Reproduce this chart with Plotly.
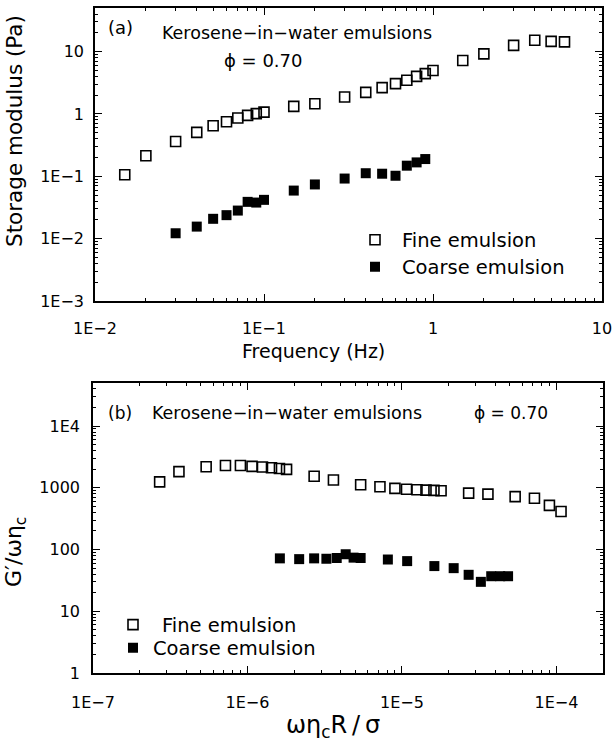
import plotly.graph_objects as go
import math

W, H = 616, 743

# ---------------- data ----------------
freq_fine = [0.015, 0.02, 0.03, 0.04, 0.05, 0.06, 0.07, 0.08, 0.09, 0.1,
             0.15, 0.2, 0.3, 0.4, 0.5, 0.6, 0.7, 0.8, 0.9, 1.0,
             1.5, 2, 3, 4, 5, 6]
gp_fine = [0.106, 0.214, 0.362, 0.506, 0.647, 0.75, 0.86, 0.95, 1.01, 1.07,
           1.32, 1.46, 1.87, 2.22, 2.64, 3.06, 3.46, 4.01, 4.43, 4.96,
           7.2, 9.2, 12.6, 15.2, 14.6, 14.3]
freq_coarse = [0.03, 0.04, 0.05, 0.06, 0.07, 0.08, 0.09, 0.1, 0.15, 0.2,
               0.3, 0.4, 0.5, 0.6, 0.7, 0.8, 0.9]
gp_coarse = [0.0122, 0.0156, 0.0208, 0.0238, 0.0282, 0.0389, 0.0379, 0.0419,
             0.059, 0.074, 0.092, 0.112, 0.110, 0.102, 0.148, 0.167, 0.189]

x_fine = [2.7e-7, 3.6e-7, 5.4e-7, 7.2e-7, 9.0e-7, 1.07e-6, 1.25e-6, 1.43e-6,
          1.61e-6, 1.79e-6, 2.7e-6, 3.6e-6, 5.4e-6, 7.2e-6, 9.0e-6, 1.07e-5,
          1.25e-5, 1.43e-5, 1.61e-5, 1.79e-5, 2.7e-5, 3.6e-5, 5.4e-5, 7.2e-5,
          9.0e-5, 1.07e-4]
y_fine = [1250, 1830, 2200, 2300, 2300, 2230, 2180, 2120, 2060, 1990,
          1540, 1340, 1120, 1040, 980, 950, 930, 920, 910, 900,
          820, 790, 720, 680, 520, 415]
x_coarse = [1.62e-6, 2.16e-6, 2.7e-6, 3.24e-6, 3.78e-6, 4.32e-6, 4.86e-6,
            5.4e-6, 8.1e-6, 1.08e-5, 1.62e-5, 2.16e-5, 2.7e-5, 3.24e-5,
            3.78e-5, 4.32e-5, 4.86e-5]
y_coarse = [72, 70, 72, 71, 73, 84, 74, 73, 69, 65, 54, 50, 39, 30, 37, 37, 37]

xa_vals = [1e-2, 1e-1, 1, 10]
xa_text = ["1E\u22122", "1E\u22121", "1", "10"]
ya_vals = [1e-3, 1e-2, 1e-1, 1, 10]
ya_text = ["1E\u22123", "1E\u22122", "1E\u22121", "1", "10"]
xb_vals = [1e-7, 1e-6, 1e-5, 1e-4]
xb_text = ["1E\u22127", "1E\u22126", "1E\u22125", "1E\u22124"]
yb_vals = [1, 10, 100, 1000, 1e4]
yb_text = ["1", "10", "100", "1000", "1E4"]

FONT = "DejaVu Sans"

def px(x):
    return x / W

def py(y):
    return 1 - y / H

def minors(lo, hi):
    out = []
    for k in range(lo, hi + 1):
        for m in range(2, 10):
            out.append(m * 10 ** k)
    return out

fig = go.Figure()

mk_open = dict(symbol="square-open", size=10, color="black", line=dict(width=1.6, color="black"))
mk_fill = dict(symbol="square", size=10, color="black", line=dict(width=0))

fig.add_trace(go.Scatter(x=freq_fine, y=gp_fine, mode="markers", marker=mk_open,
                         name="Fine emulsion", xaxis="x", yaxis="y", legend="legend"))
fig.add_trace(go.Scatter(x=freq_coarse, y=gp_coarse, mode="markers", marker=mk_fill,
                         name="Coarse emulsion", xaxis="x", yaxis="y", legend="legend2"))
fig.add_trace(go.Scatter(x=x_fine, y=y_fine, mode="markers", marker=mk_open,
                         name="Fine emulsion", xaxis="x2", yaxis="y2", legend="legend3"))
fig.add_trace(go.Scatter(x=x_coarse, y=y_coarse, mode="markers", marker=mk_fill,
                         name="Coarse emulsion", xaxis="x2", yaxis="y2", legend="legend4"))

def axis(domain, rng, vals, text, minvals, anchor, standoff):
    return dict(
        type="log", domain=domain, range=rng, anchor=anchor, automargin=False,
        tickmode="array", tickvals=vals, ticktext=text,
        ticks="inside", ticklen=7, tickwidth=1.2, tickcolor="black",
        minor=dict(ticks="inside", ticklen=3.5, tickwidth=1, tickcolor="black",
                   tickvals=minvals, showgrid=False),
        showline=True, linewidth=1.6, linecolor="black", mirror="allticks",
        showgrid=False, zeroline=False,
        tickfont=dict(family=FONT, size=16, color="black"),
        ticklabelstandoff=standoff,
    )

def leg(x_sym, y, gap):
    iw = 2 * gap - 10
    return dict(x=px(x_sym - gap), y=py(y), xanchor="left", yanchor="middle",
                font=dict(family=FONT, size=19.5, color="black"),
                bgcolor="rgba(0,0,0,0)", itemwidth=iw, visible=True)

fig.update_layout(
    template="none", showlegend=True,
    width=W, height=H, margin=dict(l=0, r=0, t=0, b=0, pad=0, autoexpand=False),
    paper_bgcolor="white", plot_bgcolor="white",
    font=dict(family=FONT, color="black"),
    xaxis=axis([px(95), px(602)], [-2, 1], xa_vals, xa_text, minors(-2, 0), "y", 12),
    yaxis=axis([py(301), py(8)], [-3, math.log10(50)], ya_vals, ya_text, minors(-3, 1), "x", 6),
    xaxis2=axis([px(93), px(603)], [-7, math.log10(2e-4)], xb_vals, xb_text, minors(-7, -4), "y2", 14),
    yaxis2=axis([py(673), py(383)], [0, math.log10(5e4)], yb_vals, yb_text, minors(0, 4), "x2", 8),
    legend=leg(375, 240, 27),
    legend2=leg(375, 267, 27),
    legend3=leg(133, 625, 29),
    legend4=leg(133, 648, 20),
)

def ann(text, x, y, size=16, xanchor="left", angle=0):
    fig.add_annotation(text=text, x=px(x), y=py(y), xref="paper", yref="paper",
                       xanchor=xanchor, yanchor="middle", showarrow=False,
                       textangle=angle, font=dict(family=FONT, size=size, color="black"))

ann("(a)", 106, 28, 18)
ann("Kerosene\u2212in\u2212water emulsions", 160, 33, 17.5)
ann("\u03d5 = 0.70", 222, 60, 18)
ann("(b)", 106, 413, 17)
ann("Kerosene\u2212in\u2212water emulsions", 150, 413, 17.5)
ann("\u03d5 = 0.70", 472, 413, 17)

ann("Storage modulus (Pa)", 15, 131, 21.5, "center", -90)
ann("Frequency (Hz)", 313, 351, 19, "center")
ann("G\u2032/\u03c9\u03b7<sub>c</sub>", 15, 552, 22, "center", -90)
ann("\u03c9\u03b7<sub>c</sub>R\u2009/\u2009\u03c3", 333, 726, 24, "center")

fig.write_html("out.html")
